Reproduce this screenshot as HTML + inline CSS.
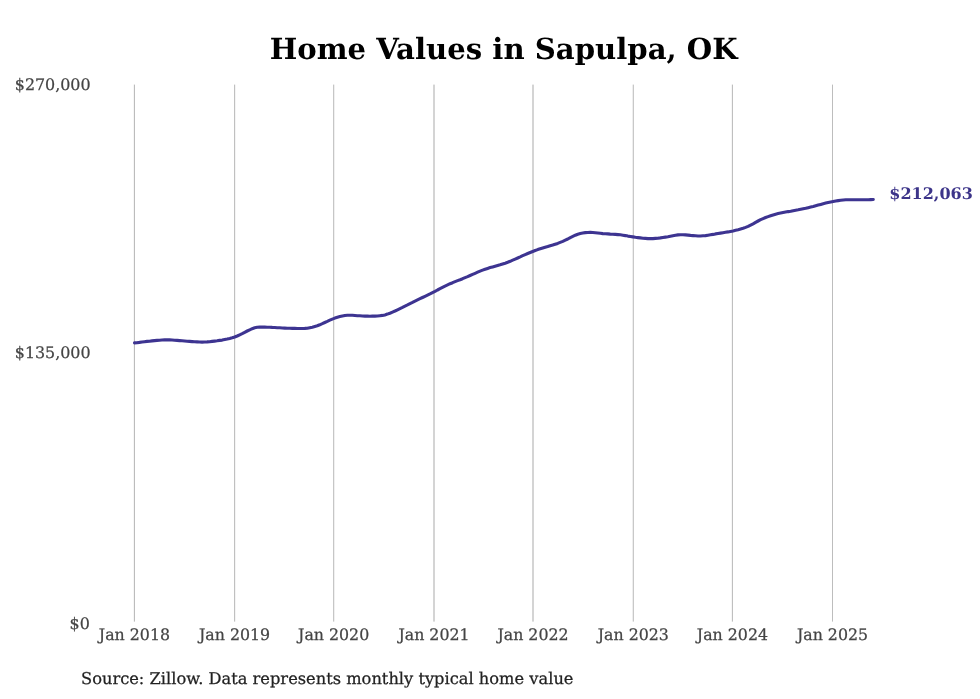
<!DOCTYPE html>
<html><head><meta charset="utf-8"><title>Home Values in Sapulpa, OK</title>
<style>
html,body{margin:0;padding:0;background:#fff;}
svg{display:block;font-family:"DejaVu Serif","Liberation Serif",serif;text-rendering:geometricPrecision;}
</style></head>
<body>
<svg width="980" height="699" viewBox="0 0 980 699">
<rect width="980" height="699" fill="#fff"/>
<g>
<rect x="133" y="84.6" width="1" height="537" fill="#f6f6f6"/>
<rect x="134" y="84.6" width="1" height="537" fill="#bcbcbc"/>
<rect x="234" y="84.6" width="1" height="537" fill="#c0c0c0"/>
<rect x="235" y="84.6" width="1" height="537" fill="#f4f4f4"/>
<rect x="333" y="84.6" width="1" height="537" fill="#c6c6c6"/>
<rect x="334" y="84.6" width="1" height="537" fill="#f0f0f0"/>
<rect x="433" y="84.6" width="1" height="537" fill="#d4d4d4"/>
<rect x="434" y="84.6" width="1" height="537" fill="#d4d4d4"/>
<rect x="532" y="84.6" width="1" height="537" fill="#d4d4d4"/>
<rect x="533" y="84.6" width="1" height="537" fill="#d4d4d4"/>
<rect x="632" y="84.6" width="1" height="537" fill="#eeeeee"/>
<rect x="633" y="84.6" width="1" height="537" fill="#c8c8c8"/>
<rect x="731" y="84.6" width="1" height="537" fill="#f6f6f6"/>
<rect x="732" y="84.6" width="1" height="537" fill="#bfbfbf"/>
<rect x="832" y="84.6" width="1" height="537" fill="#bdbdbd"/>
</g>
<path d="M134.5,342.9 L137.0,342.7 L139.5,342.4 L142.0,342.0 L144.5,341.7 L147.0,341.4 L149.5,341.2 L152.0,340.9 L154.5,340.6 L157.0,340.4 L159.5,340.2 L162.0,340.0 L164.6,339.9 L167.1,339.9 L169.6,339.9 L172.1,340.0 L174.6,340.2 L177.1,340.4 L179.6,340.6 L182.1,340.8 L184.6,341.0 L187.1,341.2 L189.6,341.4 L192.1,341.6 L194.6,341.8 L197.1,341.9 L199.6,342.0 L202.1,342.1 L204.6,342.0 L207.1,341.9 L209.6,341.7 L212.1,341.4 L214.6,341.1 L217.1,340.8 L219.6,340.4 L222.2,340.1 L224.7,339.6 L227.2,339.1 L229.7,338.5 L232.2,337.8 L234.7,337.0 L237.2,336.0 L239.7,334.8 L242.2,333.6 L244.7,332.3 L247.2,331.0 L249.7,329.8 L252.2,328.7 L254.7,327.8 L257.2,327.3 L259.7,327.1 L262.2,327.0 L264.7,327.1 L267.2,327.2 L269.7,327.2 L272.2,327.4 L274.7,327.5 L277.3,327.7 L279.8,327.8 L282.3,328.0 L284.8,328.1 L287.3,328.2 L289.8,328.3 L292.3,328.4 L294.8,328.4 L297.3,328.5 L299.8,328.5 L302.3,328.5 L304.8,328.4 L307.3,328.2 L309.8,327.7 L312.3,327.2 L314.8,326.5 L317.3,325.8 L319.8,324.8 L322.3,323.7 L324.8,322.5 L327.3,321.4 L329.8,320.2 L332.3,319.1 L334.9,318.1 L337.4,317.3 L339.9,316.6 L342.4,316.0 L344.9,315.5 L347.4,315.2 L349.9,315.2 L352.4,315.3 L354.9,315.5 L357.4,315.7 L359.9,315.8 L362.4,316.0 L364.9,316.1 L367.4,316.1 L369.9,316.2 L372.4,316.1 L374.9,316.1 L377.4,316.0 L379.9,315.7 L382.4,315.4 L384.9,314.9 L387.4,314.1 L389.9,313.2 L392.5,312.1 L395.0,311.0 L397.5,309.8 L400.0,308.6 L402.5,307.4 L405.0,306.1 L407.5,304.9 L410.0,303.6 L412.5,302.4 L415.0,301.1 L417.5,299.9 L420.0,298.7 L422.5,297.5 L425.0,296.3 L427.5,295.1 L430.0,293.9 L432.5,292.6 L435.0,291.4 L437.5,290.0 L440.0,288.7 L442.5,287.4 L445.0,286.1 L447.6,284.9 L450.1,283.7 L452.6,282.7 L455.1,281.6 L457.6,280.6 L460.1,279.7 L462.6,278.7 L465.1,277.6 L467.6,276.6 L470.1,275.5 L472.6,274.4 L475.1,273.3 L477.6,272.2 L480.1,271.1 L482.6,270.1 L485.1,269.2 L487.6,268.4 L490.1,267.6 L492.6,266.9 L495.1,266.2 L497.6,265.5 L500.1,264.8 L502.6,264.0 L505.2,263.2 L507.7,262.3 L510.2,261.3 L512.7,260.2 L515.2,259.1 L517.7,258.0 L520.2,256.9 L522.7,255.7 L525.2,254.6 L527.7,253.5 L530.2,252.5 L532.7,251.5 L535.2,250.5 L537.7,249.6 L540.2,248.8 L542.7,248.0 L545.2,247.2 L547.7,246.5 L550.2,245.7 L552.7,245.0 L555.2,244.2 L557.7,243.4 L560.2,242.4 L562.8,241.4 L565.3,240.2 L567.8,239.0 L570.3,237.6 L572.8,236.4 L575.3,235.2 L577.8,234.2 L580.3,233.5 L582.8,233.0 L585.3,232.6 L587.8,232.5 L590.3,232.4 L592.8,232.5 L595.3,232.7 L597.8,233.0 L600.3,233.3 L602.8,233.6 L605.3,233.8 L607.8,233.9 L610.3,234.1 L612.8,234.2 L615.3,234.4 L617.9,234.6 L620.4,234.8 L622.9,235.2 L625.4,235.6 L627.9,236.1 L630.4,236.5 L632.9,236.9 L635.4,237.3 L637.9,237.6 L640.4,237.9 L642.9,238.2 L645.4,238.4 L647.9,238.6 L650.4,238.6 L652.9,238.6 L655.4,238.4 L657.9,238.2 L660.4,237.9 L662.9,237.5 L665.4,237.1 L667.9,236.7 L670.4,236.2 L672.9,235.7 L675.5,235.3 L678.0,234.9 L680.5,234.8 L683.0,234.8 L685.5,234.9 L688.0,235.1 L690.5,235.4 L693.0,235.6 L695.5,235.8 L698.0,236.0 L700.5,236.0 L703.0,235.8 L705.5,235.6 L708.0,235.2 L710.5,234.8 L713.0,234.4 L715.5,233.9 L718.0,233.5 L720.5,233.1 L723.0,232.7 L725.5,232.3 L728.0,231.9 L730.5,231.4 L733.1,230.9 L735.6,230.3 L738.1,229.7 L740.6,229.0 L743.1,228.3 L745.6,227.4 L748.1,226.4 L750.6,225.1 L753.1,223.8 L755.6,222.3 L758.1,221.0 L760.6,219.7 L763.1,218.6 L765.6,217.5 L768.1,216.6 L770.6,215.7 L773.1,214.9 L775.6,214.2 L778.1,213.6 L780.6,213.1 L783.1,212.6 L785.6,212.1 L788.2,211.6 L790.7,211.2 L793.2,210.7 L795.7,210.2 L798.2,209.8 L800.7,209.3 L803.2,208.8 L805.7,208.3 L808.2,207.7 L810.7,207.1 L813.2,206.5 L815.7,205.8 L818.2,205.1 L820.7,204.4 L823.2,203.7 L825.7,203.1 L828.2,202.5 L830.7,202.0 L833.2,201.5 L835.7,201.0 L838.2,200.6 L840.7,200.3 L843.2,200.0 L845.8,199.8 L848.3,199.8 L850.8,199.8 L853.3,199.8 L855.8,199.8 L858.3,199.8 L860.8,199.8 L863.3,199.8 L865.8,199.7 L868.3,199.7 L870.8,199.6 L873.3,199.5" fill="none" stroke="#3d3491" stroke-width="3.1" stroke-linejoin="round" stroke-linecap="round"/>
<text x="503.6" y="59" text-anchor="middle" font-size="29.15" font-weight="bold" fill="#000">Home Values in Sapulpa, OK</text>
<g font-size="15.9" fill="#444" stroke="#444" stroke-width="0.25" text-anchor="end">
<text x="90.6" y="90">$270,000</text>
<text x="90.6" y="358">$135,000</text>
<text x="89.8" y="629">$0</text>
</g>
<g font-size="15.8" fill="#444" stroke="#444" stroke-width="0.25" text-anchor="middle">
<text x="134.45" y="640">Jan 2018</text>
<text x="234.55" y="640">Jan 2019</text>
<text x="333.65" y="640">Jan 2020</text>
<text x="434.0" y="640">Jan 2021</text>
<text x="533.0" y="640">Jan 2022</text>
<text x="633.3" y="640">Jan 2023</text>
<text x="732.45" y="640">Jan 2024</text>
<text x="832.5" y="640">Jan 2025</text>
</g>
<text x="889.3" y="199" font-size="16.0" font-weight="bold" fill="#3c3489">$212,063</text>
<text x="81.0" y="684" font-size="16.25" fill="#222" stroke="#222" stroke-width="0.25">Source: Zillow. Data represents monthly typical home value</text>
</svg>
</body></html>
